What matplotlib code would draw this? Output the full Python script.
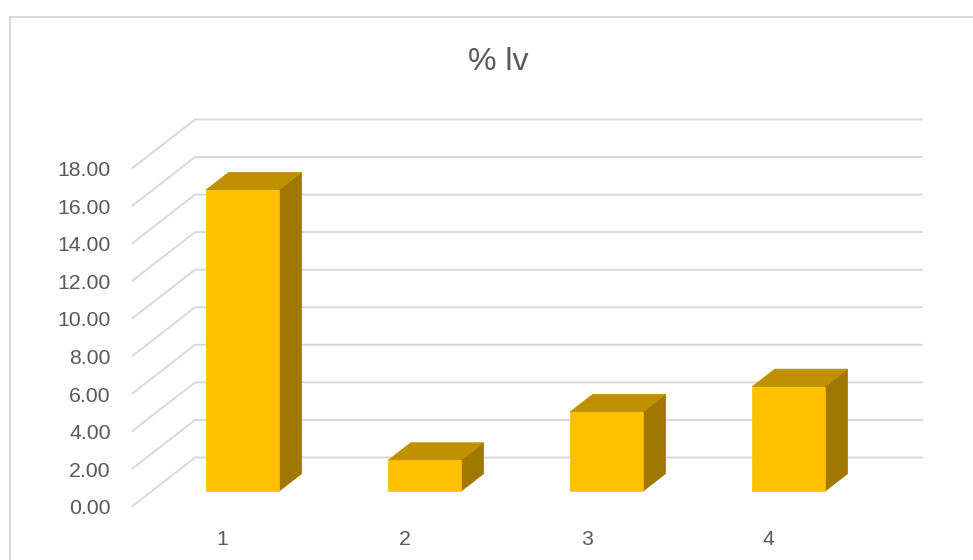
import matplotlib.pyplot as plt
from matplotlib.patches import Polygon, Rectangle
import numpy as np

categories = ["1", "2", "3", "4"]
values = [16.05, 1.65, 4.23, 5.57]
yticks = [0, 2, 4, 6, 8, 10, 12, 14, 16, 18]
title = "% lv"

plt.rcParams['font.family'] = ['Liberation Sans', 'DejaVu Sans']
grey_txt = "#595959"
grid_col = "#d9d9d9"
c_front, c_top, c_side = "#FFC000", "#BF9000", "#A07800"

# oblique depth of the floor/wall, in data units (x in categories, y in values)
wall_dx, wall_dy = 0.348, 2.62
bar_d0, bar_d1 = 0.31, 0.67   # bar front/back as fraction of depth
bar_w = 0.40

fig = plt.figure(figsize=(9.73, 5.6), dpi=100)
ax = fig.add_axes([0, 0, 1, 1])
ax.set_xlim(-0.2236, 5.1225)
ax.set_ylim(-2.838, 26.98)
ax.axis("off")

n = len(categories)
left, right = 0.5, n + 0.5

# gridlines: front-left diagonal then along the back wall
for v in yticks:
    ax.plot([left, left + wall_dx, right + wall_dx], [v, v + wall_dy, v + wall_dy],
            color=grid_col, lw=1.4, zorder=1, solid_capstyle="butt")
    ax.annotate("%.2f" % v, (left, v), xytext=(-15, -1.5), textcoords="offset points",
                ha="right", va="center", fontsize=15.3, color=grey_txt)

bdx = (bar_d1 - bar_d0) * wall_dx
bdy = (bar_d1 - bar_d0) * wall_dy
for i, (cat, v) in enumerate(zip(categories, values)):
    c = i + 1
    x0 = c - bar_w / 2 + bar_d0 * wall_dx
    x1 = x0 + bar_w
    y0 = bar_d0 * wall_dy
    front = [(x0, y0), (x1, y0), (x1, y0 + v), (x0, y0 + v)]
    side = [(x1, y0), (x1 + bdx, y0 + bdy), (x1 + bdx, y0 + bdy + v), (x1, y0 + v)]
    top = [(x0, y0 + v), (x1, y0 + v), (x1 + bdx, y0 + bdy + v), (x0 + bdx, y0 + bdy + v)]
    for pts, col in [(side, c_side), (top, c_top), (front, c_front)]:
        ax.add_patch(Polygon(pts, closed=True, facecolor=col, edgecolor=col, lw=0.5, zorder=3))
    ax.annotate(cat, (c, 0), xytext=(0, -23.5), textcoords="offset points",
                ha="center", va="center", fontsize=15.3, color=grey_txt)

fig.text(498 / 973, 1 - 62 / 560, title, ha="center", va="center", fontsize=23, color=grey_txt)

# chart frame
fig.patches.append(Rectangle((10 / 973, -0.1), 1.0, 1.1 - 17 / 560, transform=fig.transFigure,
                             fill=False, edgecolor=grid_col, lw=1.5))

fig.savefig("out.png", dpi=100)
